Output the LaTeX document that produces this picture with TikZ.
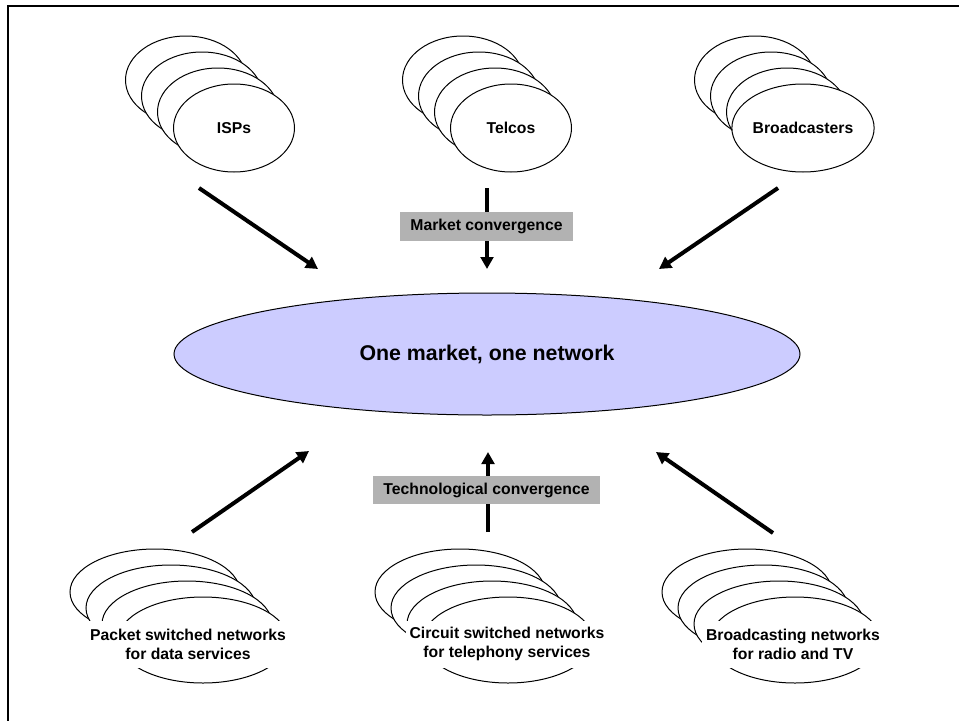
\documentclass[tikz,border=0pt]{standalone}
\usepackage{fontspec}
\setmainfont{Liberation Sans}
\usetikzlibrary{shapes.geometric,arrows.meta}
\definecolor{lav}{HTML}{CCCCFF}
\definecolor{boxgray}{HTML}{B2B2B2}
\begin{document}
\begin{tikzpicture}[x=0.75pt,y=-0.75pt,
  topell/.style={ellipse, draw, fill=white, line width=0.75pt, minimum width=90.75pt, minimum height=66pt, inner sep=0pt, font=\fontsize{11.8}{14}\selectfont\bfseries},
  botell/.style={ellipse, draw, fill=white, line width=0.75pt, minimum width=127.5pt, minimum height=64.5pt, inner sep=0pt},
  bottext/.style={fill=white, align=center, minimum height=35.25pt, inner xsep=3pt, inner ysep=0pt, font=\fontsize{11.8}{14.25}\selectfont\bfseries},
  convlabel/.style={fill=boxgray, minimum height=21.5pt, inner xsep=7.5pt, inner ysep=0pt, font=\fontsize{11.8}{14}\selectfont\bfseries},
  market/.style={ellipse, draw, fill=lav, line width=0.75pt, minimum width=469.5pt, minimum height=91.5pt, inner sep=0pt, font=\fontsize{16}{19}\selectfont\bfseries},
  bigarrow/.style={line width=3pt, -{Triangle[length=9pt,width=9.5pt]}},
  frame/.style={line width=1.5pt}
]
\useasboundingbox (0,0) rectangle (959,721);
% frame
\coordinate (fTL) at (7.5,6);
\coordinate (fTR) at (959,6);
\coordinate (fBL) at (7.5,721);
\draw[frame] (fTR) -- (fTL) -- (fBL);

% top stacks
\foreach \n/\cx/\cy/\t in {isp/234/128/ISPs, tel/511/128/Telcos, brd/803/128/Broadcasters} {
  \foreach \k in {3,2,1} \node[topell] (\n\k) at (\cx-16*\k, \cy-16*\k) {};
  \node[topell] (\n0) at (\cx,\cy) {\t};
}

% bottom stacks
\foreach \n/\cx/\cy in {pkt/203/640, cir/508/640, bnet/795/640} {
  \foreach \k in {3,2,1} \node[botell] (\n\k) at (\cx-16*\k, \cy-16*\k) {};
  \node[botell] (\n0) at (\cx,\cy) {};
}
\node[bottext] (pkttxt) at (188,644) {Packet switched networks\\for data services};
\node[bottext] (cirtxt) at (507,644) {Circuit switched networks\\for telephony services};
\node[bottext] (bnettxt) at (793,644) {Broadcasting networks\\for radio and TV};

% central ellipse
\node[market] (one) at (487,354) {One market, one network};

% arrow end points
\coordinate (a1s) at (199,188); \coordinate (a1e) at (318,269);
\coordinate (a2s) at (487,188); \coordinate (a2e) at (487,269);
\coordinate (a3s) at (778,188); \coordinate (a3e) at (659,269);
\coordinate (b1s) at (192,532); \coordinate (b1e) at (309,451);
\coordinate (b2s) at (488,532); \coordinate (b2e) at (488,452);
\coordinate (b3s) at (773,533); \coordinate (b3e) at (656,452);
\foreach \s/\e in {a1s/a1e, a2s/a2e, a3s/a3e, b1s/b1e, b2s/b2e, b3s/b3e}
  \draw[bigarrow] (\s) -- (\e);

% convergence labels
\node[convlabel] (mconv) at (486.5,226.5) {Market convergence};
\node[convlabel] (tconv) at (486.5,490) {Technological convergence};
\end{tikzpicture}
\end{document}
